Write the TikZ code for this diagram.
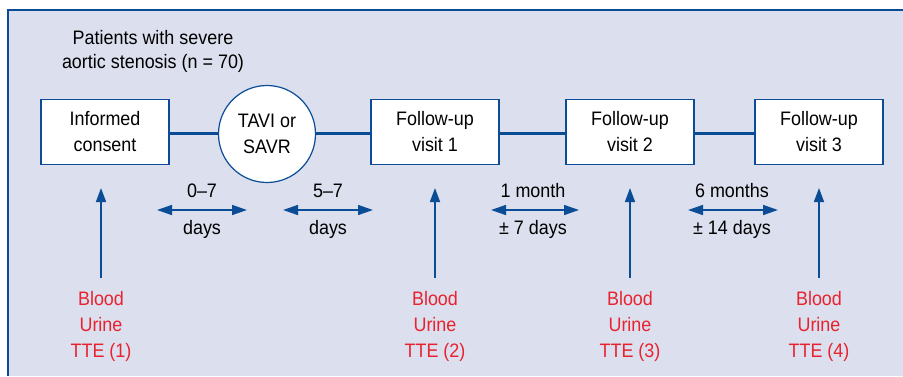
\documentclass[tikz,border=0pt]{standalone}
\usepackage{fontspec}
\setmainfont{Liberation Sans}[FakeStretch=0.92]
\usetikzlibrary{arrows.meta}
\definecolor{panelbg}{HTML}{DCDFEE}
\definecolor{dblue}{HTML}{0A4C96}
\definecolor{lred}{HTML}{E8232F}
\begin{document}
\begin{tikzpicture}[x=1pt,y=-1pt,
  every node/.style={font=\fontsize{19.5}{26}\selectfont, align=center, inner sep=0pt},
  stagebox/.style={draw=dblue, line width=1.2pt, fill=white, minimum width=128pt, minimum height=65pt},
  stagecircle/.style={draw=dblue, line width=1.2pt, fill=white, circle, minimum size=97pt},
  linkline/.style={dblue, line width=3pt},
  uparrow/.style={dblue, line width=1.5pt, -{Triangle[length=14pt,width=10pt]}},
  spanarrow/.style={dblue, line width=1.5pt, {Triangle[length=15pt,width=10pt]}-{Triangle[length=15pt,width=10pt]}},
  sampletext/.style={text=lred, anchor=north},
  lbltext/.style={text=black}]
\useasboundingbox (0,0) rectangle (903,376);
\fill[white] (0,0) rectangle (903,376);
\fill[panelbg] (8,10) rectangle (903,376);
\draw[dblue, line width=1.3pt] (8,376) -- (8,10) -- (903,10);

\node[lbltext, font=\fontsize{19.5}{24}\selectfont] (title) at (153,51) {Patients with severe\\aortic stenosis (n = 70)};

\node[stagebox] (ic) at (105,132) {Informed\\consent};
\node[stagecircle] (op) at (267,134) {TAVI or\\SAVR};
\node[stagebox] (f1) at (435,132) {Follow-up\\visit 1};
\node[stagebox] (f2) at (630,132) {Follow-up\\visit 2};
\node[stagebox] (f3) at (819,132) {Follow-up\\visit 3};

\draw[linkline] (ic.east |- 0,133) -- (op.west |- 0,133);
\draw[linkline] (op.east |- 0,133) -- (f1.west |- 0,133);
\draw[linkline] (f1.east |- 0,133) -- (f2.west |- 0,133);
\draw[linkline] (f2.east |- 0,133) -- (f3.west |- 0,133);

\node[sampletext] (s1) at (101,291) {Blood\\Urine\\TTE (1)};
\node[sampletext] (s2) at (435,291) {Blood\\Urine\\TTE (2)};
\node[sampletext] (s3) at (630,291) {Blood\\Urine\\TTE (3)};
\node[sampletext] (s4) at (819,291) {Blood\\Urine\\TTE (4)};

\coordinate (t1) at (101,188);
\coordinate (t2) at (435,188);
\coordinate (t3) at (630,188);
\coordinate (t4) at (819,188);
\draw[uparrow] (101,278) -- (t1);
\draw[uparrow] (435,278) -- (t2);
\draw[uparrow] (630,278) -- (t3);
\draw[uparrow] (819,278) -- (t4);

\coordinate (a1l) at (157,210); \coordinate (a1r) at (247,210);
\coordinate (a2l) at (283,210); \coordinate (a2r) at (373,210);
\coordinate (a3l) at (491,210); \coordinate (a3r) at (579,210);
\coordinate (a4l) at (688,210); \coordinate (a4r) at (778,210);
\draw[spanarrow] (a1l) -- (a1r);
\draw[spanarrow] (a2l) -- (a2r);
\draw[spanarrow] (a3l) -- (a3r);
\draw[spanarrow] (a4l) -- (a4r);

\node[lbltext] (d1t) at (202,191) {0–7};
\node[lbltext] (d1b) at (202,229) {days};
\node[lbltext] (d2t) at (328,191) {5–7};
\node[lbltext] (d2b) at (328,229) {days};
\node[lbltext] (d3t) at (533,191) {1 month};
\node[lbltext] (d3b) at (533,229) {± 7 days};
\node[lbltext] (d4t) at (732,191) {6 months};
\node[lbltext] (d4b) at (732,229) {± 14 days};
\end{tikzpicture}
\end{document}
